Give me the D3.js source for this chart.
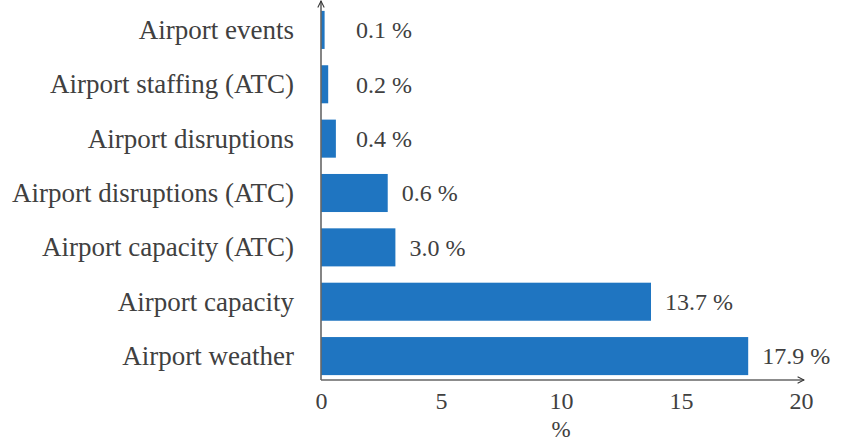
<!DOCTYPE html>
<html>
<head>
<meta charset="utf-8">
<script src="https://cdn.jsdelivr.net/npm/d3@7"></script>
<style>
  html, body { margin: 0; padding: 0; background: #fff; }
  svg { display: block; }
</style>
</head>
<body>
<div id="chart"></div>
<script>
// categories, top to bottom
const categories = [
  'Airport events',
  'Airport staffing (ATC)',
  'Airport disruptions',
  'Airport disruptions (ATC)',
  'Airport capacity (ATC)',
  'Airport capacity',
  'Airport weather',
];
// bar lengths as drawn in the reference (%)
const barValues = [0.15, 0.3, 0.62, 2.78, 3.1, 13.75, 17.8];
// printed value labels
const valueLabels = ['0.1 %', '0.2 %', '0.4 %', '0.6 %', '3.0 %', '13.7 %', '17.9 %'];
const xTicks = [0, 5, 10, 15, 20];
const xTitle = '%';

const W = 845, H = 442;
const FONT = '"Liberation Serif", "Times New Roman", serif';
const TEXT = '#404040';
const AXIS = '#666';
const BLUE = '#1f75c1';

const svg = d3.select('#chart').append('svg')
  .attr('width', W).attr('height', H);

const x = d3.scaleLinear().domain([0, 20]).range([321, 801]);
const y = d3.scaleBand().domain(categories).range([6, 380])
  .paddingInner(0.3).paddingOuter(0.09);

const rows = categories.map((c, i) => ({ cat: c, v: barValues[i], label: valueLabels[i] }));

// bars
svg.selectAll('.bar')
  .data(rows)
  .join('rect')
  .attr('class', 'bar')
  .attr('x', x(0))
  .attr('y', d => y(d.cat))
  .attr('width', d => x(d.v) - x(0))
  .attr('height', y.bandwidth())
  .attr('fill', BLUE);

// value labels
svg.selectAll('.val')
  .data(rows)
  .join('text')
  .attr('class', 'val')
  .attr('x', d => Math.max(x(d.v) + 14, x(1.46)))
  .attr('y', d => y(d.cat) + y.bandwidth() / 2)
  .attr('dy', '0.35em')
  .attr('font-family', FONT)
  .attr('font-size', 24)
  .attr('fill', TEXT)
  .text(d => d.label);

// category labels
svg.selectAll('.cat')
  .data(rows)
  .join('text')
  .attr('class', 'cat')
  .attr('x', x(0) - 27)
  .attr('y', d => y(d.cat) + y.bandwidth() / 2)
  .attr('dy', '0.33em')
  .attr('text-anchor', 'end')
  .attr('font-family', FONT)
  .attr('font-size', 27)
  .attr('fill', TEXT)
  .text(d => d.cat);

// arrow marker
svg.append('defs').append('marker')
  .attr('id', 'arrow')
  .attr('viewBox', '0 0 10 10')
  .attr('refX', 9).attr('refY', 5)
  .attr('markerWidth', 8).attr('markerHeight', 8)
  .attr('markerUnits', 'userSpaceOnUse')
  .attr('orient', 'auto')
  .append('path')
  .attr('d', 'M1,1 L9,5 L1,9')
  .attr('fill', 'none')
  .attr('stroke', '#333')
  .attr('stroke-width', 1.3);

const axisY = 380;

// x axis
const xAxis = svg.append('g')
  .attr('transform', `translate(0,${axisY})`)
  .call(d3.axisBottom(x).tickValues(xTicks).tickSize(0).tickPadding(12));
xAxis.select('.domain').remove();
xAxis.selectAll('text')
  .attr('font-family', FONT)
  .attr('font-size', 24)
  .attr('fill', TEXT);

svg.append('line')
  .attr('x1', x(0)).attr('x2', x(20) + 3)
  .attr('y1', axisY).attr('y2', axisY)
  .attr('stroke', AXIS).attr('stroke-width', 1.6)
  .attr('marker-end', 'url(#arrow)');

// y axis
svg.append('line')
  .attr('x1', x(0)).attr('x2', x(0))
  .attr('y1', axisY).attr('y2', 1)
  .attr('stroke', AXIS).attr('stroke-width', 1.6)
  .attr('marker-end', 'url(#arrow)');

// axis title
svg.append('text')
  .attr('x', x(10))
  .attr('y', 429)
  .attr('dy', '0.35em')
  .attr('text-anchor', 'middle')
  .attr('font-family', FONT)
  .attr('font-size', 23)
  .attr('fill', TEXT)
  .text(xTitle);
</script>
</body>
</html>
